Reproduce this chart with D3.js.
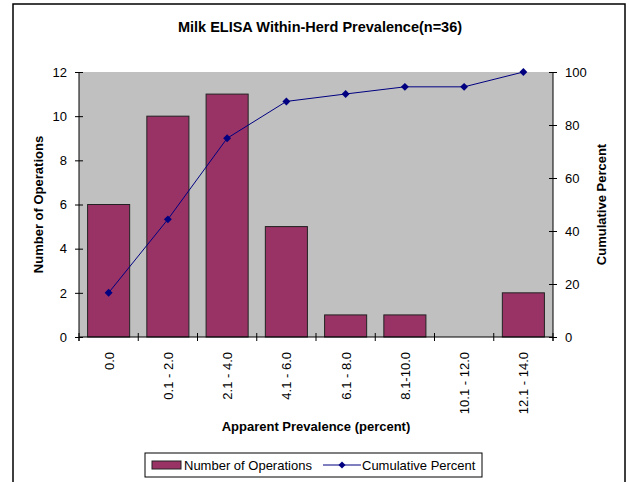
<!DOCTYPE html>
<html>
<head>
<meta charset="utf-8">
<script src="https://cdn.jsdelivr.net/npm/d3@7"></script>
<style>
  body { margin: 0; background: #fff; }
  text { font-family: "Liberation Sans", Arial, sans-serif; fill: #000; }
</style>
</head>
<body>
<div id="chart"></div>
<script>
// data
const categories = ["0.0", "0.1 - 2.0", "2.1 - 4.0", "4.1 - 6.0", "6.1 - 8.0", "8.1-10.0", "10.1 - 12.0", "12.1 - 14.0"];
const operations = [6, 10, 11, 5, 1, 1, 0, 2];
const cumulative = [16.7, 44.4, 75.0, 88.9, 91.7, 94.4, 94.4, 100];
const leftTicks = [0, 2, 4, 6, 8, 10, 12];
const rightTicks = [0, 20, 40, 60, 80, 100];

const width = 630, height = 482;
const plot = { left: 79, right: 553, top: 72, bottom: 337 };
const barColor = "#993366", lineColor = "#000080";

let svg = d3.select("#chart").append("svg")
    .attr("width", width)
    .attr("height", height);

// outer frame
svg.append("rect")
    .attr("x", 13).attr("y", 4)
    .attr("width", 612).attr("height", 500)
    .attr("fill", "none")
    .attr("stroke", "#000")
    .attr("stroke-width", 1.5);

let x = d3.scaleBand()
    .domain(categories)
    .range([plot.left, plot.right])
    .paddingInner(0.29)
    .paddingOuter(0.145);

let xCenter = d3.scalePoint()
    .domain(categories)
    .range([plot.left, plot.right])
    .padding(0.5);

let yLeft = d3.scaleLinear().domain([0, 12]).range([plot.bottom, plot.top]);
let yRight = d3.scaleLinear().domain([0, 100]).range([plot.bottom, plot.top]);

// gray plot area
svg.append("rect")
    .attr("x", plot.left).attr("y", plot.top)
    .attr("width", plot.right - plot.left)
    .attr("height", plot.bottom - plot.top)
    .attr("fill", "#c0c0c0");

// bars
svg.selectAll(".bar")
    .data(operations.map(function(v, i) { return { cat: categories[i], value: v }; })
      .filter(function(d) { return d.value > 0; }))
    .enter()
    .append("rect")
    .attr("class", "bar")
    .attr("x", function(d) { return x(d.cat); })
    .attr("y", function(d) { return yLeft(d.value); })
    .attr("width", x.bandwidth())
    .attr("height", function(d) { return yLeft(0) - yLeft(d.value); })
    .attr("fill", barColor)
    .attr("stroke", "#222")
    .attr("stroke-width", 1);

// axes
let gl = svg.append("g")
    .attr("transform", "translate(" + plot.left + ",0)")
    .call(d3.axisLeft(yLeft).tickValues(leftTicks).tickSize(4).tickPadding(8));

let gr = svg.append("g")
    .attr("transform", "translate(" + plot.right + ",0)")
    .call(d3.axisRight(yRight).tickValues(rightTicks).tickSize(4).tickPadding(8));

[gl, gr].forEach(function(g) {
  g.select(".domain").remove();
  g.selectAll(".tick line").attr("stroke", "#000");
  g.selectAll(".tick text")
      .attr("font-size", "13px")
      .attr("font-family", "Liberation Sans, Arial, sans-serif")
      .attr("fill", "#000");
});
// ticks cross the axis line
gl.selectAll(".tick line").attr("x1", 4).attr("x2", -4);
gr.selectAll(".tick line").attr("x1", -4).attr("x2", 4);

svg.append("line").attr("x1", plot.left).attr("x2", plot.left)
    .attr("y1", plot.top).attr("y2", plot.bottom + 4).attr("stroke", "#000");
svg.append("line").attr("x1", plot.right).attr("x2", plot.right)
    .attr("y1", plot.top).attr("y2", plot.bottom + 4).attr("stroke", "#000");

// x axis: boundaries between categories
let xTicks = d3.range(categories.length + 1).map(function(i) {
  return plot.left + i * (plot.right - plot.left) / categories.length;
});
let gx = svg.append("g");
gx.append("line")
    .attr("x1", plot.left).attr("x2", plot.right)
    .attr("y1", plot.bottom).attr("y2", plot.bottom)
    .attr("stroke", "#000");
gx.selectAll(".xt")
    .data(xTicks)
    .enter().append("line")
    .attr("x1", function(d) { return d; }).attr("x2", function(d) { return d; })
    .attr("y1", plot.bottom - 4).attr("y2", plot.bottom + 4)
    .attr("stroke", "#000");

// rotated category labels
gx.selectAll(".xl")
    .data(categories)
    .enter().append("text")
    .attr("transform", function(d) {
      return "translate(" + (xCenter(d) + 5) + "," + (plot.bottom + 15) + ") rotate(-90)";
    })
    .attr("text-anchor", "end")
    .attr("font-size", "13px")
    .text(function(d) { return d; });

// cumulative line
let line = d3.line()
    .x(function(d, i) { return xCenter(categories[i]); })
    .y(function(d) { return yRight(d); });

svg.append("path")
    .datum(cumulative)
    .attr("d", line)
    .attr("fill", "none")
    .attr("stroke", lineColor)
    .attr("stroke-width", 1);

svg.selectAll(".pt")
    .data(cumulative)
    .enter().append("path")
    .attr("class", "pt")
    .attr("d", d3.symbol().type(d3.symbolDiamond2).size(40))
    .attr("transform", function(d, i) {
      return "translate(" + xCenter(categories[i]) + "," + yRight(d) + ")";
    })
    .attr("fill", lineColor);

// titles
svg.append("text")
    .attr("x", 320).attr("y", 32)
    .attr("text-anchor", "middle")
    .attr("font-size", "14.5px")
    .attr("font-weight", "bold")
    .text("Milk ELISA Within-Herd Prevalence(n=36)");

svg.append("text")
    .attr("transform", "translate(43," + ((plot.top + plot.bottom) / 2) + ") rotate(-90)")
    .attr("text-anchor", "middle")
    .attr("font-size", "13px")
    .attr("font-weight", "bold")
    .text("Number of Operations");

svg.append("text")
    .attr("transform", "translate(606," + ((plot.top + plot.bottom) / 2) + ") rotate(-90)")
    .attr("text-anchor", "middle")
    .attr("font-size", "13px")
    .attr("font-weight", "bold")
    .text("Cumulative Percent");

svg.append("text")
    .attr("x", (plot.left + plot.right) / 2).attr("y", 431)
    .attr("text-anchor", "middle")
    .attr("font-size", "13px")
    .attr("font-weight", "bold")
    .text("Apparent Prevalence (percent)");

// legend
let lg = svg.append("g").attr("transform", "translate(145,453)");
lg.append("rect")
    .attr("width", 337).attr("height", 24)
    .attr("fill", "#fff").attr("stroke", "#000");
lg.append("rect")
    .attr("x", 7).attr("y", 8).attr("width", 29).attr("height", 8)
    .attr("fill", barColor).attr("stroke", "#222");
lg.append("text").attr("x", 39).attr("y", 16.5).attr("font-size", "13px").text("Number of Operations");
lg.append("line")
    .attr("x1", 178).attr("x2", 216).attr("y1", 12).attr("y2", 12)
    .attr("stroke", lineColor);
lg.append("path")
    .attr("d", d3.symbol().type(d3.symbolDiamond2).size(32))
    .attr("transform", "translate(197,12)")
    .attr("fill", lineColor);
lg.append("text").attr("x", 217).attr("y", 16.5).attr("font-size", "13px").text("Cumulative Percent");
</script>
</body>
</html>
